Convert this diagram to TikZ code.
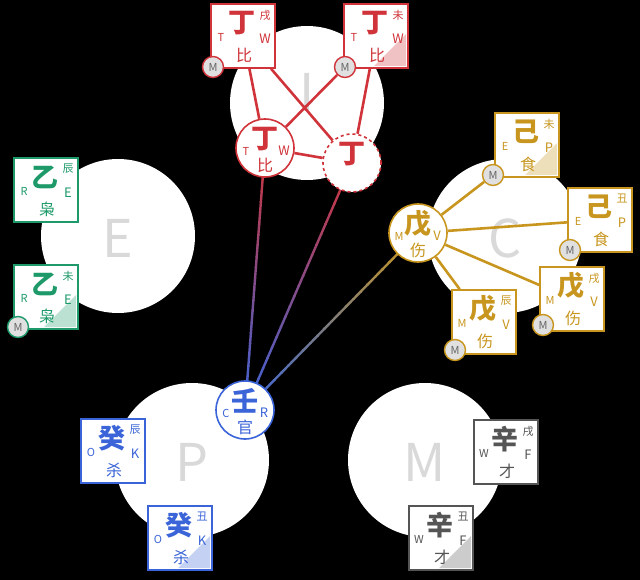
\documentclass[tikz,border=0pt]{standalone}
\usepackage{fontspec}
\setmainfont{Noto Sans CJK SC}
\usetikzlibrary{calc}
\pgfdeclarelayer{back}\pgfdeclarelayer{mid}\pgfsetlayers{back,mid,main}
\definecolor{cred}{HTML}{D0343A}
\definecolor{cgreen}{HTML}{1E9A6A}
\definecolor{cgold}{HTML}{C8961E}
\definecolor{cblue}{HTML}{3A64D8}
\definecolor{cgray}{HTML}{555555}
\tikzset{
 big/.style={circle,fill=white,minimum size=154,inner sep=0},
 biglbl/.style={text=black!15,font=\fontsize{52}{52}\selectfont},
 sq/.style={draw=cc,line width=1.6pt,fill=white,minimum size=64,inner sep=0},
 rc/.style={circle,draw=cc,line width=1.6pt,fill=white,minimum size=58,inner sep=0},
 badge/.style={circle,draw=cc,line width=1.4pt,fill=black!12,minimum size=21,inner sep=0,text=black!60,font=\fontsize{11}{11}\selectfont},
 conn/.style={draw=cc,line width=2.6pt},
 tmain/.style={text=cc,font=\bfseries\fontsize{27}{27}\selectfont},
 tsm/.style={text=cc,font=\fontsize{11}{11}\selectfont,inner sep=0},
 tbr/.style={text=cc,font=\fontsize{11}{11}\selectfont,inner sep=0},
 tbot/.style={text=cc,font=\fontsize{16}{16}\selectfont,inner sep=0},
}
\newcommand\cornershade[1]{\fill[cc!30] ([shift={(30,-2)}]#1.center) -- ([shift={(30,30)}]#1.center) -- ([shift={(-2,30)}]#1.center) -- cycle;}
\newcommand\gbox[9]{%
 \node[sq] (#1) at (#2,#3) {};
 \if s#9\cornershade{#1}\fi
 \node[tmain,inner sep=0] at ([shift={(-1,-13)}]#1.center) {#4};
 \node[tbr] at ([shift={(22,-21)}]#1.center) {#5};
 \node[tsm] at ([shift={(-22,1)}]#1.center) {#6};
 \node[tsm,font=\fontsize{13}{13}\selectfont] at ([shift={(22,3)}]#1.center) {#7};
 \node[tbot] at ([shift={(1,19)}]#1.center) {#8};
}
\newcommand\gcirc[7]{%
 \node[rc] (#1) at (#2,#3) {};
 \node[tmain,inner sep=0] at ([shift={(0,-9)}]#1.center) {#4};
 \node[tsm] at ([shift={(-19,3)}]#1.center) {#5};
 \node[tsm,font=\fontsize{13}{13}\selectfont] at ([shift={(19,3)}]#1.center) {#6};
 \node[tbot] at ([shift={(0,17)}]#1.center) {#7};
}
\newcommand\grad[4]{%
 \foreach \i in {0,...,23}{
  \pgfmathsetmacro\pp{100-\i*100/23}
  \draw[line width=2.4pt,color=#3!\pp!#4] ($(#1)!\i/24!(#2)$) -- ($(#1)!\i/24+1/24+0.005!(#2)$);}}
\begin{document}
\begin{tikzpicture}[x=1pt,y=-1pt]
\begin{pgfonlayer}{back}
\fill[black] (0,0) rectangle (640,580);
\node[big] (bI) at (307,103) {};
\node[big] (bE) at (118,236) {};
\node[big] (bC) at (505,236) {};
\node[big] (bP) at (192,460) {};
\node[big] (bM) at (425,460) {};
\node[biglbl] at (307,92) {I};
\node[biglbl] at (118,238) {E};
\node[biglbl] at (505,238) {C};
\node[biglbl] at (192,462) {P};
\node[biglbl] at (425,462) {M};
\end{pgfonlayer}
\useasboundingbox (0,0) rectangle (640,580);
% red
\colorlet{cc}{cred}
\gbox{r1}{243}{36}{丁}{戌}{T}{W}{比}{}
\gbox{r2}{376}{36}{丁}{未}{T}{W}{比}{s}
\gcirc{c1}{265}{148}{丁}{T}{W}{比}
\node[rc,dashed,draw=cc] (c2) at (352,163) {};
\node[tmain,inner sep=0] at ([shift={(0,-9)}]c2.center) {丁};
\node[badge] (m1) at (213,67) {M};
\node[badge] (m2) at (345,67) {M};
\begin{pgfonlayer}{mid}
\draw[conn] (r1) -- (c1);
\draw[conn] (r1) -- (c2);
\draw[conn] (m2) -- (c1);
\draw[conn] (r2) -- (c2);
\draw[conn] (c1) -- (c2);
\end{pgfonlayer}
% green
\colorlet{cc}{cgreen}
\gbox{g1}{46}{190}{乙}{辰}{R}{E}{枭}{}
\gbox{g2}{46}{297}{乙}{未}{R}{E}{枭}{s}
\node[badge] (m3) at (18,327) {M};
% gold
\colorlet{cc}{cgold}
\gcirc{y0}{418}{233}{戊}{M}{V}{伤}
\gbox{y1}{527}{145}{己}{未}{E}{P}{食}{s}
\gbox{y2}{600}{220}{己}{丑}{E}{P}{食}{}
\gbox{y3}{572}{299}{戊}{戌}{M}{V}{伤}{}
\gbox{y4}{484}{322}{戊}{辰}{M}{V}{伤}{}
\node[badge] (m4) at (493,175) {M};
\node[badge] (m5) at (570,250) {M};
\node[badge] (m6) at (543,325) {M};
\node[badge] (m7) at (455,350) {M};
\begin{pgfonlayer}{mid}
\draw[conn] (y0) -- (m4);
\draw[conn] (y0) -- (y2);
\draw[conn] (y0) -- (y3);
\draw[conn] (y0) -- (y4);
\end{pgfonlayer}
% blue
\colorlet{cc}{cblue}
\gcirc{b0}{245}{410}{壬}{C}{R}{官}
\gbox{b1}{113}{451}{癸}{辰}{O}{K}{杀}{}
\gbox{b2}{180}{538}{癸}{丑}{O}{K}{杀}{s}
% gray
\colorlet{cc}{cgray}
\gbox{w1}{506}{452}{辛}{戌}{W}{F}{才}{}
\gbox{w2}{441}{538}{辛}{丑}{W}{F}{才}{s}
\begin{pgfonlayer}{mid}
\grad{b0}{c1}{cblue}{cred}
\grad{b0}{c2}{cblue}{cred}
\grad{b0}{y0}{cblue}{cgold}
\end{pgfonlayer}
\end{tikzpicture}
\end{document}
